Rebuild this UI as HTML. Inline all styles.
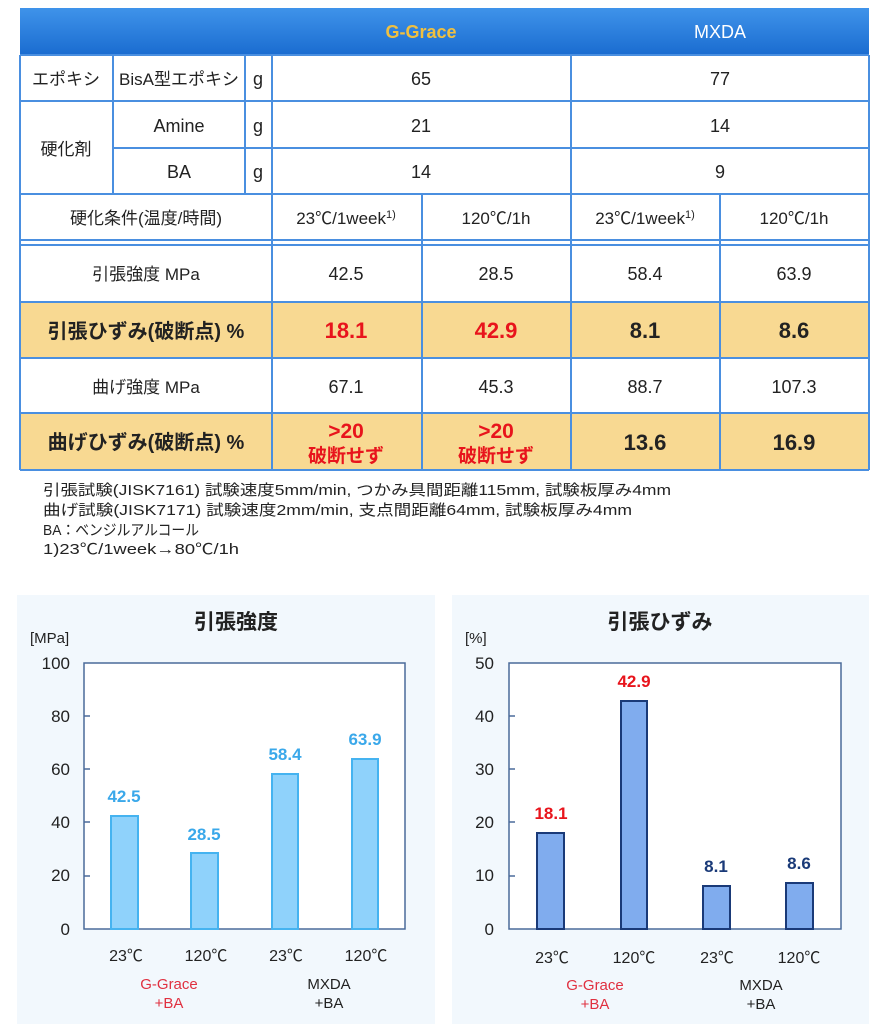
<!DOCTYPE html>
<html><head><meta charset="utf-8"><style>
html,body{margin:0;padding:0;background:#fff;width:889px;height:1024px;overflow:hidden}
svg{display:block}
text{font-family:"Liberation Sans","Noto Sans CJK JP",sans-serif;fill:#222}
</style></head><body>
<svg width="889" height="1024" viewBox="0 0 889 1024" xmlns="http://www.w3.org/2000/svg">
<defs>
<linearGradient id="hg" x1="0" y1="0" x2="0" y2="1"><stop offset="0" stop-color="#3f93ea"/><stop offset="1" stop-color="#1a6cd0"/></linearGradient>
</defs>
<rect x="20" y="8" width="849" height="47" fill="url(#hg)"/>
<rect x="20" y="302" width="849" height="56" fill="#f8d992"/>
<rect x="20" y="413" width="849" height="57" fill="#f8d992"/>
<g stroke="#4a8fe0" stroke-width="2" fill="none">
<line x1="20" y1="55" x2="869" y2="55"/>
<line x1="20" y1="101" x2="869" y2="101"/>
<line x1="113" y1="148" x2="869" y2="148"/>
<line x1="20" y1="194" x2="869" y2="194"/>
<line x1="20" y1="240" x2="869" y2="240"/>
<line x1="20" y1="245" x2="869" y2="245"/>
<line x1="20" y1="302" x2="869" y2="302"/>
<line x1="20" y1="358" x2="869" y2="358"/>
<line x1="20" y1="413" x2="869" y2="413"/>
<line x1="20" y1="470" x2="869" y2="470"/>
<line x1="20" y1="55" x2="20" y2="470"/>
<line x1="869" y1="55" x2="869" y2="470"/>
<line x1="113" y1="55" x2="113" y2="194"/>
<line x1="245" y1="55" x2="245" y2="194"/>
<line x1="272" y1="55" x2="272" y2="470"/>
<line x1="571" y1="55" x2="571" y2="470"/>
<line x1="422" y1="194" x2="422" y2="470"/>
<line x1="720" y1="194" x2="720" y2="470"/>
</g>
<g font-size="18" text-anchor="middle">
<text x="421" y="38" font-weight="bold" style="fill:#f0c040">G-Grace</text>
<text x="720" y="38" style="fill:#fff">MXDA</text>
<text x="66" y="85" font-size="17">エポキシ</text>
<text x="179" y="85" font-size="17">BisA型エポキシ</text>
<text x="258" y="85">g</text>
<text x="421" y="85">65</text>
<text x="720" y="85">77</text>
<text x="66" y="155" font-size="17">硬化剤</text>
<text x="179" y="132">Amine</text>
<text x="258" y="132">g</text>
<text x="421" y="132">21</text>
<text x="720" y="132">14</text>
<text x="179" y="178">BA</text>
<text x="258" y="178">g</text>
<text x="421" y="178">14</text>
<text x="720" y="178">9</text>
<text x="146" y="224" font-size="17">硬化条件(温度/時間)</text>
<text x="346" y="224" font-size="17">23℃/1week<tspan font-size="11" dy="-6">1)</tspan></text>
<text x="496" y="224" font-size="17">120℃/1h</text>
<text x="645" y="224" font-size="17">23℃/1week<tspan font-size="11" dy="-6">1)</tspan></text>
<text x="794" y="224" font-size="17">120℃/1h</text>
<text x="146" y="280" font-size="17">引張強度 MPa</text>
<text x="346" y="280">42.5</text>
<text x="496" y="280">28.5</text>
<text x="645" y="280">58.4</text>
<text x="794" y="280">63.9</text>
<text x="146" y="338" font-size="20" font-weight="bold">引張ひずみ(破断点) %</text>
<text x="346" y="338" font-size="22" font-weight="bold" style="fill:#e8141c">18.1</text>
<text x="496" y="338" font-size="22" font-weight="bold" style="fill:#e8141c">42.9</text>
<text x="645" y="338" font-size="22" font-weight="bold">8.1</text>
<text x="794" y="338" font-size="22" font-weight="bold">8.6</text>
<text x="146" y="393" font-size="17">曲げ強度 MPa</text>
<text x="346" y="393">67.1</text>
<text x="496" y="393">45.3</text>
<text x="645" y="393">88.7</text>
<text x="794" y="393">107.3</text>
<text x="146" y="449" font-size="20" font-weight="bold">曲げひずみ(破断点) %</text>
<text x="346" y="438" font-size="21" font-weight="bold" style="fill:#e8141c">&gt;20</text>
<text x="346" y="462" font-size="19" font-weight="bold" style="fill:#e8141c">破断せず</text>
<text x="496" y="438" font-size="21" font-weight="bold" style="fill:#e8141c">&gt;20</text>
<text x="496" y="462" font-size="19" font-weight="bold" style="fill:#e8141c">破断せず</text>
<text x="645" y="450" font-size="22" font-weight="bold">13.6</text>
<text x="794" y="450" font-size="22" font-weight="bold">16.9</text>
</g>
<g font-size="15" style="fill:#333">
<text x="43" y="495" textLength="628" lengthAdjust="spacingAndGlyphs">引張試験(JISK7161)  試験速度5mm/min, つかみ具間距離115mm, 試験板厚み4mm</text>
<text x="43" y="515" textLength="589" lengthAdjust="spacingAndGlyphs">曲げ試験(JISK7171)  試験速度2mm/min, 支点間距離64mm, 試験板厚み4mm</text>
<text x="43" y="535" textLength="156" lengthAdjust="spacingAndGlyphs">BA：ベンジルアルコール</text>
<text x="43" y="554" textLength="196" lengthAdjust="spacingAndGlyphs">1)23℃/1week→80℃/1h</text>
</g>
<rect x="17" y="595" width="418" height="429" fill="#f2f8fd"/>
<text x="236" y="629" font-size="21" font-weight="bold" text-anchor="middle">引張強度</text>
<text x="30" y="643" font-size="15">[MPa]</text>
<rect x="84" y="663" width="321" height="266" fill="#fff" stroke="#4a6a9a" stroke-width="1.5"/>
<g font-size="17" text-anchor="end">
<text x="70" y="669">100</text><text x="70" y="722">80</text><text x="70" y="775">60</text><text x="70" y="828">40</text><text x="70" y="881">20</text><text x="70" y="935">0</text>
</g>
<g stroke="#4a6a9a" stroke-width="1.5"><line x1="84" y1="716" x2="90" y2="716"/><line x1="84" y1="769" x2="90" y2="769"/><line x1="84" y1="822" x2="90" y2="822"/><line x1="84" y1="876" x2="90" y2="876"/></g>
<g fill="#8fd2fb" stroke="#45b3f0" stroke-width="2">
<rect x="111" y="816" width="27" height="113"/>
<rect x="191" y="853" width="27" height="76"/>
<rect x="272" y="774" width="26" height="155"/>
<rect x="352" y="759" width="26" height="170"/>
</g>
<g font-size="17" font-weight="bold" text-anchor="middle">
<text x="124" y="802" style="fill:#3aa8ea">42.5</text><text x="204" y="840" style="fill:#3aa8ea">28.5</text><text x="285" y="760" style="fill:#3aa8ea">58.4</text><text x="365" y="745" style="fill:#3aa8ea">63.9</text>
</g>
<g font-size="16" text-anchor="middle">
<text x="126" y="961">23℃</text><text x="206" y="961">120℃</text><text x="286" y="961">23℃</text><text x="366" y="961">120℃</text>
<text x="169" y="989" font-size="15" style="fill:#e03040">G-Grace</text><text x="169" y="1008" font-size="15" style="fill:#e03040">+BA</text>
<text x="329" y="989" font-size="15">MXDA</text><text x="329" y="1008" font-size="15">+BA</text>
</g>
<rect x="452" y="595" width="417" height="429" fill="#f2f8fd"/>
<text x="660" y="629" font-size="21" font-weight="bold" text-anchor="middle">引張ひずみ</text>
<text x="465" y="643" font-size="15">[%]</text>
<rect x="509" y="663" width="332" height="266" fill="#fff" stroke="#4a6a9a" stroke-width="1.5"/>
<g font-size="17" text-anchor="end">
<text x="494" y="669">50</text><text x="494" y="722">40</text><text x="494" y="775">30</text><text x="494" y="828">20</text><text x="494" y="881">10</text><text x="494" y="935">0</text>
</g>
<g stroke="#4a6a9a" stroke-width="1.5"><line x1="509" y1="716" x2="515" y2="716"/><line x1="509" y1="769" x2="515" y2="769"/><line x1="509" y1="822" x2="515" y2="822"/><line x1="509" y1="876" x2="515" y2="876"/></g>
<g fill="#80acee" stroke="#1a3a78" stroke-width="2">
<rect x="537" y="833" width="27" height="96"/>
<rect x="621" y="701" width="26" height="228"/>
<rect x="703" y="886" width="27" height="43"/>
<rect x="786" y="883" width="27" height="46"/>
</g>
<g font-size="17" font-weight="bold" text-anchor="middle">
<text x="551" y="819" style="fill:#e8141c">18.1</text><text x="634" y="687" style="fill:#e8141c">42.9</text><text x="716" y="872" style="fill:#1a3a78">8.1</text><text x="799" y="869" style="fill:#1a3a78">8.6</text>
</g>
<g font-size="16" text-anchor="middle">
<text x="552" y="963">23℃</text><text x="634" y="963">120℃</text><text x="717" y="963">23℃</text><text x="799" y="963">120℃</text>
<text x="595" y="990" font-size="15" style="fill:#e03040">G-Grace</text><text x="595" y="1009" font-size="15" style="fill:#e03040">+BA</text>
<text x="761" y="990" font-size="15">MXDA</text><text x="761" y="1009" font-size="15">+BA</text>
</g>
</svg>
</body></html>
